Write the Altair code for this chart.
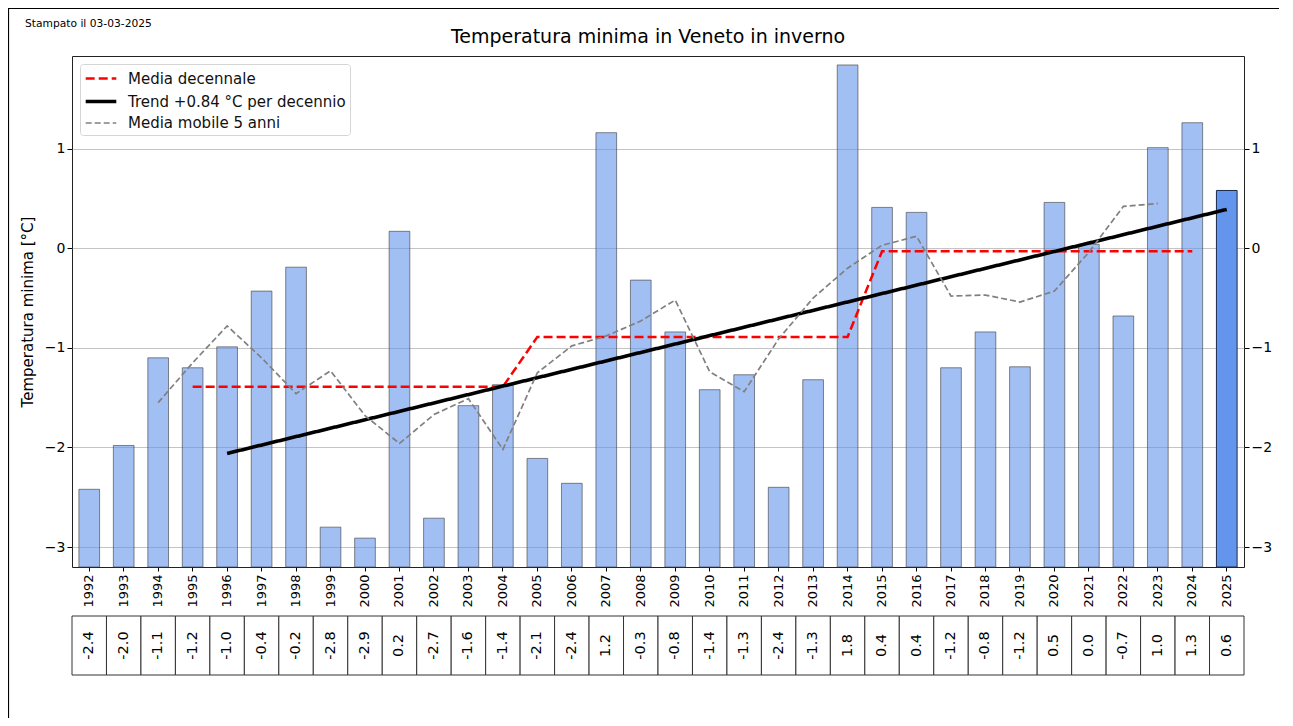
import altair as alt
import pandas as pd

years = list(range(1992, 2026))
bar_values = [-2.42, -1.98, -1.10, -1.20, -0.99, -0.43, -0.19, -2.80, -2.91, 0.17,
              -2.71, -1.58, -1.37, -2.11, -2.36, 1.16, -0.32, -0.84, -1.42, -1.27,
              -2.40, -1.32, 1.84, 0.41, 0.36, -1.20, -0.84, -1.19, 0.46, 0.04,
              -0.68, 1.01, 1.26, 0.58]
table_labels = ["-2.4", "-2.0", "-1.1", "-1.2", "-1.0", "-0.4", "-0.2", "-2.8", "-2.9", "0.2",
                "-2.7", "-1.6", "-1.4", "-2.1", "-2.4", "1.2", "-0.3", "-0.8", "-1.4", "-1.3",
                "-2.4", "-1.3", "1.8", "0.4", "0.4", "-1.2", "-0.8", "-1.2", "0.5", "0.0",
                "-0.7", "1.0", "1.3", "0.6"]

dec_years = list(range(1995, 2025))
dec_values = [-1.39] * 10 + [-0.89] * 10 + [-0.03] * 10

trend_years = [1996, 2025]
trend_values = [-2.06, 0.39]

mob_years = list(range(1994, 2024))
mob_values = [-1.55, -1.15, -0.78, -1.10, -1.46, -1.23, -1.68, -1.96, -1.67, -1.51,
              -2.02, -1.25, -0.98, -0.88, -0.73, -0.52, -1.24, -1.44, -0.91, -0.50,
              -0.20, 0.03, 0.12, -0.48, -0.47, -0.54, -0.43, -0.04, 0.42, 0.45]

series_names = ["Media decennale", "Trend +0.84 °C per decennio", "Media mobile 5 anni"]
series_colors = ["#ff0000", "#000000", "#808080"]
series_dash = [[9, 4], [1, 0], [6, 3]]
series_width = [2.5, 3.6, 1.7]

title_text = "Temperatura minima in Veneto in inverno"
stamp_text = "Stampato il 03-03-2025"
y_title = "Temperatura minima [°C]"
y_ticks = [-3, -2, -1, 0, 1]
y_domain = [-3.2, 1.93]

W, H = 1172, 511
FONT = "DejaVu Sans"

bars = pd.DataFrame({
    "anno": [str(y) for y in years],
    "valore": bar_values,
    "etichetta": table_labels,
    "fill": ["#6495ED"] * len(years),
    "op": [0.6] * (len(years) - 1) + [1.0],
    "stroke": ["#3a3a3a"] * (len(years) - 1) + ["#1c2a48"],
})

rows = []
for name, ys, vs in zip(series_names, [dec_years, trend_years, mob_years],
                        [dec_values, trend_values, mob_values]):
    for y, v in zip(ys, vs):
        rows.append({"anno": str(y), "valore": v, "serie": name})
lines_df = pd.DataFrame(rows)

x_scale = alt.Scale(domain=[str(y) for y in years], paddingInner=0, paddingOuter=0)
y_scale = alt.Scale(domain=y_domain, nice=False, zero=False)

x_axis = alt.Axis(title=None, labelAngle=270, labelFontSize=13, labelPadding=3,
                  tickSize=4, grid=False, domain=False, labelColor="black", tickColor="black")

bar_layer = alt.Chart(bars).mark_bar(width=alt.RelativeBandSize(0.6), strokeWidth=1).encode(
    x=alt.X("anno:N", scale=x_scale, axis=x_axis, sort=None),
    y=alt.Y("valore:Q", scale=y_scale,
            axis=alt.Axis(title=y_title, values=y_ticks, orient="left", titleFontSize=15,
                          titleFontWeight="normal", titlePadding=9, labelFontSize=14,
                          tickSize=5, grid=True, gridColor="#c4c4c4", domain=False,
                          labelColor="black", tickColor="black", titleColor="black")),
    y2=alt.datum(-3.2),
    fill=alt.Fill("fill:N", scale=None),
    fillOpacity=alt.FillOpacity("op:Q", scale=None),
    stroke=alt.Stroke("stroke:N", scale=None),
    strokeOpacity=alt.StrokeOpacity("op:Q", scale=None),
)

line_layer = alt.Chart(lines_df).mark_line().encode(
    x=alt.X("anno:N", scale=x_scale, sort=None),
    y=alt.Y("valore:Q", scale=y_scale,
            axis=alt.Axis(title=None, values=y_ticks, orient="right", labelFontSize=14,
                          tickSize=5, grid=False, domain=False, labelColor="black",
                          tickColor="black")),
    color=alt.Color("serie:N", scale=alt.Scale(domain=series_names, range=series_colors),
                    legend=alt.Legend(title=None)),
    strokeDash=alt.StrokeDash("serie:N", scale=alt.Scale(domain=series_names, range=series_dash),
                              legend=alt.Legend(title=None)),
    strokeWidth=alt.StrokeWidth("serie:N",
                                scale=alt.Scale(type="ordinal", domain=series_names, range=series_width),
                                legend=alt.Legend(title=None)),
    detail="serie:N",
)

table_cells = alt.Chart(bars).mark_rect(fill="white", stroke="#333333", strokeWidth=1).encode(
    x=alt.X("anno:N", scale=x_scale, sort=None),
    y=alt.value(H + 49),
    y2=alt.value(H + 108),
)

table_text = alt.Chart(bars).mark_text(angle=270, fontSize=14.5, font=FONT, color="black",
                                       align="center", baseline="middle").encode(
    x=alt.X("anno:N", scale=x_scale, sort=None),
    y=alt.value(H + 78.5),
    text="etichetta:N",
)

stamp = alt.Chart(pd.DataFrame({"t": [stamp_text]})).mark_text(
    align="left", baseline="middle", fontSize=10.7, font=FONT, color="black").encode(
    x=alt.value(-47), y=alt.value(-32), text="t:N")

title_mark = alt.Chart(pd.DataFrame({"t": [title_text]})).mark_text(
    align="center", baseline="middle", fontSize=19, font=FONT, color="black").encode(
    x=alt.value(576), y=alt.value(-19), text="t:N")

frame_top = alt.Chart(pd.DataFrame({"t": [0]})).mark_rule(stroke="black", strokeWidth=1.2).encode(
    x=alt.value(-64), x2=alt.value(W + 35), y=alt.value(-47.5))
frame_left = alt.Chart(pd.DataFrame({"t": [0]})).mark_rule(stroke="black", strokeWidth=1.2).encode(
    x=alt.value(-63.5), y=alt.value(-48), y2=alt.value(H + 200))

chart = alt.layer(frame_top, frame_left, bar_layer, table_cells, table_text, line_layer,
                  stamp, title_mark).resolve_axis(
    y="independent"
).properties(
    width=W, height=H,
    autosize=alt.AutoSizeParams(type="none"),
    padding={"left": 64, "top": 48, "right": 35, "bottom": 151},
).configure_view(
    stroke="#222222", strokeWidth=1
).configure_axis(
    labelFont=FONT, titleFont=FONT
).configure_legend(
    orient="top-left", offset=8, padding=4, fillColor="white", strokeColor="#d5d5d5",
    cornerRadius=3, symbolType="M-1.7,0H1.7", symbolSize=324, symbolOffset=6,
    labelFontSize=15, labelFont=FONT,
    labelColor="#111111", rowPadding=3.5, labelOffset=16, labelLimit=0
)

chart.save("out.html", embed_options={"renderer": "svg", "actions": False})
